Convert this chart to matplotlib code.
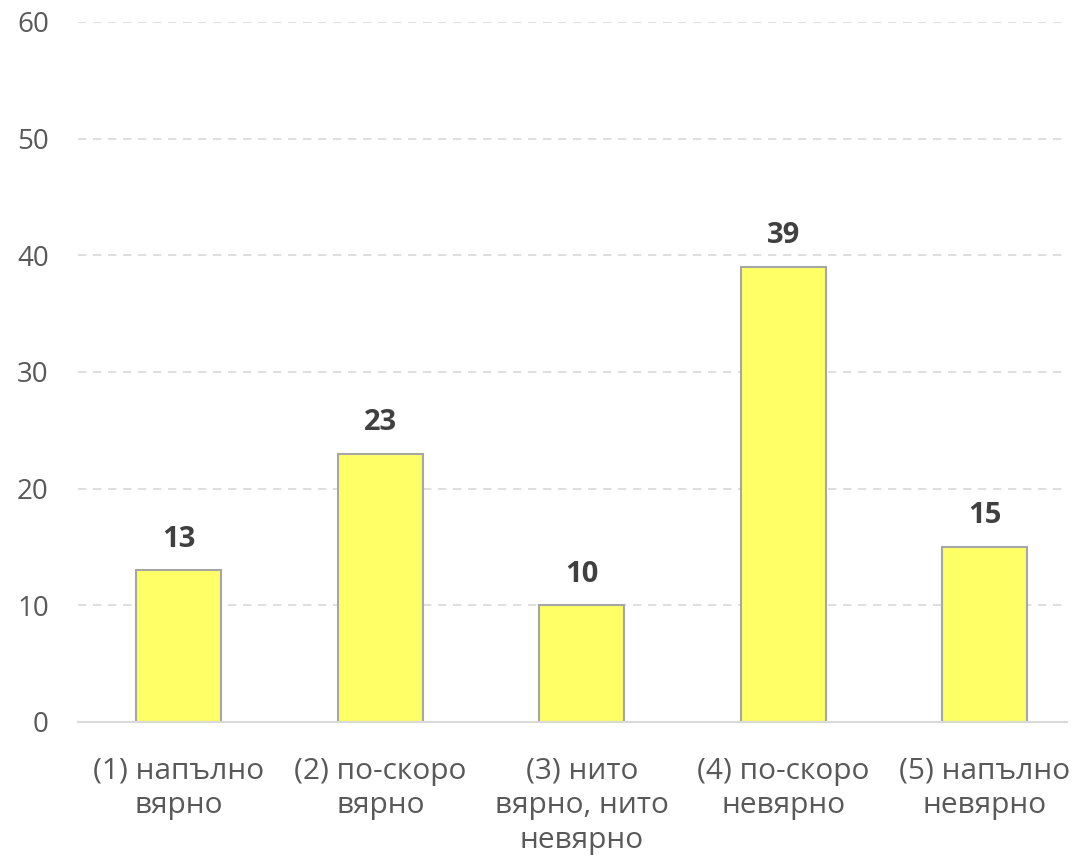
import matplotlib

matplotlib.use("Agg")
import matplotlib.pyplot as plt  # noqa: E402

categories = [
    "(1) напълно\nвярно",
    "(2) по-скоро\nвярно",
    "(3) нито\nвярно, нито\nневярно",
    "(4) по-скоро\nневярно",
    "(5) напълно\nневярно",
]
values = [13, 23, 10, 39, 15]
y_ticks = [0, 10, 20, 30, 40, 50, 60]

plt.rcParams["font.family"] = ["Open Sans", "DejaVu Sans"]

fig = plt.figure(figsize=(10.72, 8.67), dpi=100)
ax = fig.add_axes([78 / 1072, 1 - 722 / 867, (1067 - 78) / 1072, 700 / 867])

x = list(range(len(values)))
ax.bar(x, values, width=0.42, color="#ffff66", edgecolor="#a6a6a6", linewidth=1.5, zorder=3)

for xi, v in zip(x, values):
    ax.annotate(
        str(v),
        xy=(xi, v),
        xytext=(0, 12),
        textcoords="offset points",
        ha="center",
        va="bottom",
        fontsize=21,
        fontweight="bold",
        color="#404040",
    )

ax.set_xlim(-0.5, 4.408)
ax.set_ylim(0, 60)
ax.set_yticks(y_ticks)
ax.set_xticks(x)
ax.set_xticklabels(categories, linespacing=1.25, fontsize=21.5)
ax.tick_params(axis="both", length=0, colors="#595959")
ax.tick_params(axis="y", labelsize=20, pad=21)
ax.tick_params(axis="x", pad=25)

ax.grid(axis="y", color="#d9d9d9", linestyle=(0, (5, 4)), linewidth=1.2, zorder=0)
for side in ("top", "right", "left"):
    ax.spines[side].set_visible(False)
ax.spines["bottom"].set_color("#d9d9d9")
ax.spines["bottom"].set_linewidth(1.5)
ax.spines["bottom"].set_zorder(4)

fig.savefig("out.png", dpi=100, facecolor="white")
